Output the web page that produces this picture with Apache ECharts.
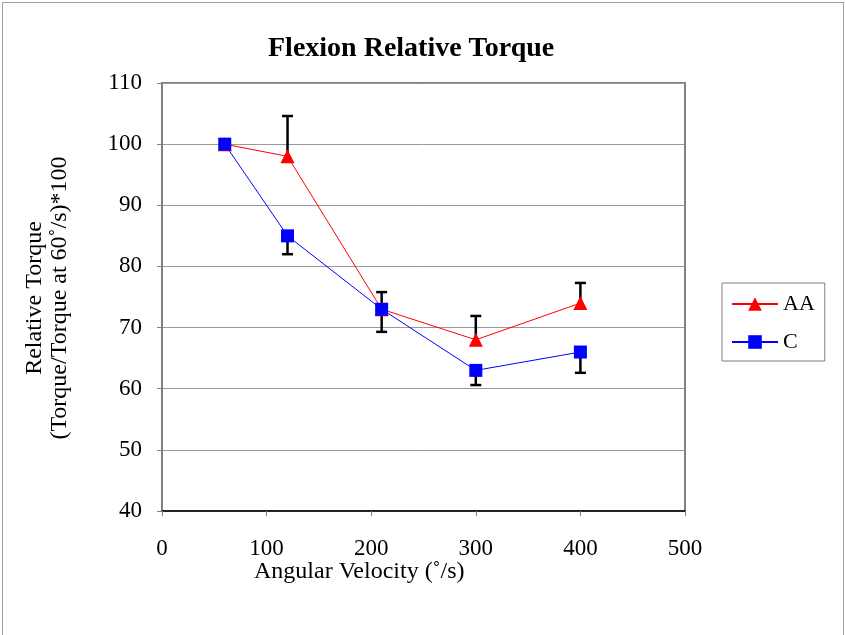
<!DOCTYPE html>
<html>
<head>
<meta charset="utf-8">
<script src="https://cdn.jsdelivr.net/npm/echarts@6/dist/echarts.min.js"></script>
<style>
  html, body { margin: 0; padding: 0; background: #fff; }
  #frame { position: absolute; left: 2px; top: 2px; width: 840px; height: 645px; border: 1px solid #a0a0a0; }
  #main { position: absolute; left: 0; top: 0; width: 846px; height: 635px; }
</style>
</head>
<body>
<div id="frame"></div>
<div id="main"></div>
<script>
// angular velocity (deg/s)
var velocity = [60, 120, 210, 300, 400];
// relative torque, AA group, with upper error
var aaValues = [100, 98, 73, 68, 74];
var aaErr = [0, 6.6, 2.8, 3.9, 3.3];
// relative torque, C group, with lower error
var cValues = [100, 85, 73, 63, 66];
var cErr = [0, 3, 3.7, 2.4, 3.4];

var serif = 'Liberation Serif';

function pairs(xs, ys) {
    return xs.map(function (x, i) { return [x, ys[i]]; });
}

// error bar: [x, from, to]
function errData(xs, ys, errs, dir) {
    var out = [];
    xs.forEach(function (x, i) {
        if (errs[i] > 0) out.push([x, ys[i], ys[i] + dir * errs[i]]);
    });
    return out;
}

function renderErr(params, api) {
    var p0 = api.coord([api.value(0), api.value(1)]);
    var p1 = api.coord([api.value(0), api.value(2)]);
    var hw = 5.5;
    var st = { stroke: '#000', lineWidth: 2.5 };
    return {
        type: 'group',
        children: [
            { type: 'line', shape: { x1: p0[0], y1: p0[1], x2: p1[0], y2: p1[1] }, style: st },
            { type: 'line', shape: { x1: p1[0] - hw, y1: p1[1], x2: p1[0] + hw, y2: p1[1] }, style: st }
        ]
    };
}

var myChart = echarts.init(document.getElementById('main'));
var option = {
    backgroundColor: 'transparent',
    animation: false,
    title: {
        text: 'Flexion Relative Torque',
        left: 263,
        top: 30,
        textStyle: { fontFamily: serif, fontSize: 28, fontWeight: 'bold', color: '#000' }
    },
    legend: {
        orient: 'vertical',
        left: 722,
        top: 283,
        padding: [10, 10, 8, 9],
        itemWidth: 46,
        itemHeight: 17,
        itemGap: 16,
        borderColor: '#808080',
        borderWidth: 1,
        textStyle: { fontFamily: serif, fontSize: 22, color: '#000', lineHeight: 20 },
        data: ['AA', 'C']
    },
    grid: {
        left: 162,
        top: 83,
        width: 523,
        height: 428,
        show: true,
        borderColor: '#808080',
        borderWidth: 2
    },
    xAxis: {
        type: 'value',
        min: 0,
        max: 500,
        interval: 100,
        axisLine: { lineStyle: { color: '#000', width: 1.5 } },
        axisTick: { show: true, inside: false, length: 5, lineStyle: { color: '#808080' } },
        axisLabel: { fontFamily: serif, fontSize: 23, color: '#000', margin: 26 },
        splitLine: { show: false }
    },
    yAxis: {
        type: 'value',
        min: 40,
        max: 110,
        interval: 10,
        axisLine: { show: true, lineStyle: { color: '#808080', width: 2 } },
        axisTick: { show: true, length: 5, lineStyle: { color: '#808080' } },
        axisLabel: { fontFamily: serif, fontSize: 23, color: '#000', margin: 20 },
        splitLine: { show: true, lineStyle: { color: '#999', width: 1 } }
    },
    graphic: [
        {
            type: 'text',
            left: 254,
            top: 560,
            style: { text: 'Angular Velocity (˚/s)', font: '24px "Liberation Serif"', fill: '#000' }
        },
        {
            type: 'text',
            x: 47,
            y: 298,
            rotation: Math.PI / 2,
            style: {
                text: 'Relative Torque\n(Torque/Torque at 60˚/s)*100',
                font: '24px "Liberation Serif"',
                fill: '#000',
                align: 'center',
                verticalAlign: 'middle',
                lineHeight: 25
            }
        }
    ],
    series: [
        {
            name: 'AA-err',
            type: 'custom',
            renderItem: renderErr,
            data: errData(velocity, aaValues, aaErr, 1),
            z: 1,
            silent: true
        },
        {
            name: 'C-err',
            type: 'custom',
            renderItem: renderErr,
            data: errData(velocity, cValues, cErr, -1),
            z: 1,
            silent: true
        },
        {
            name: 'AA',
            type: 'line',
            data: pairs(velocity, aaValues),
            symbol: 'triangle',
            symbolSize: 14,
            itemStyle: { color: '#ff0000' },
            lineStyle: { color: '#ff0000', width: 1 },
            z: 3
        },
        {
            name: 'C',
            type: 'line',
            data: pairs(velocity, cValues),
            symbol: 'rect',
            symbolSize: 13,
            itemStyle: { color: '#0000ff' },
            lineStyle: { color: '#0000ff', width: 1 },
            z: 3
        }
    ]
};
myChart.setOption(option);
</script>
</body>
</html>
